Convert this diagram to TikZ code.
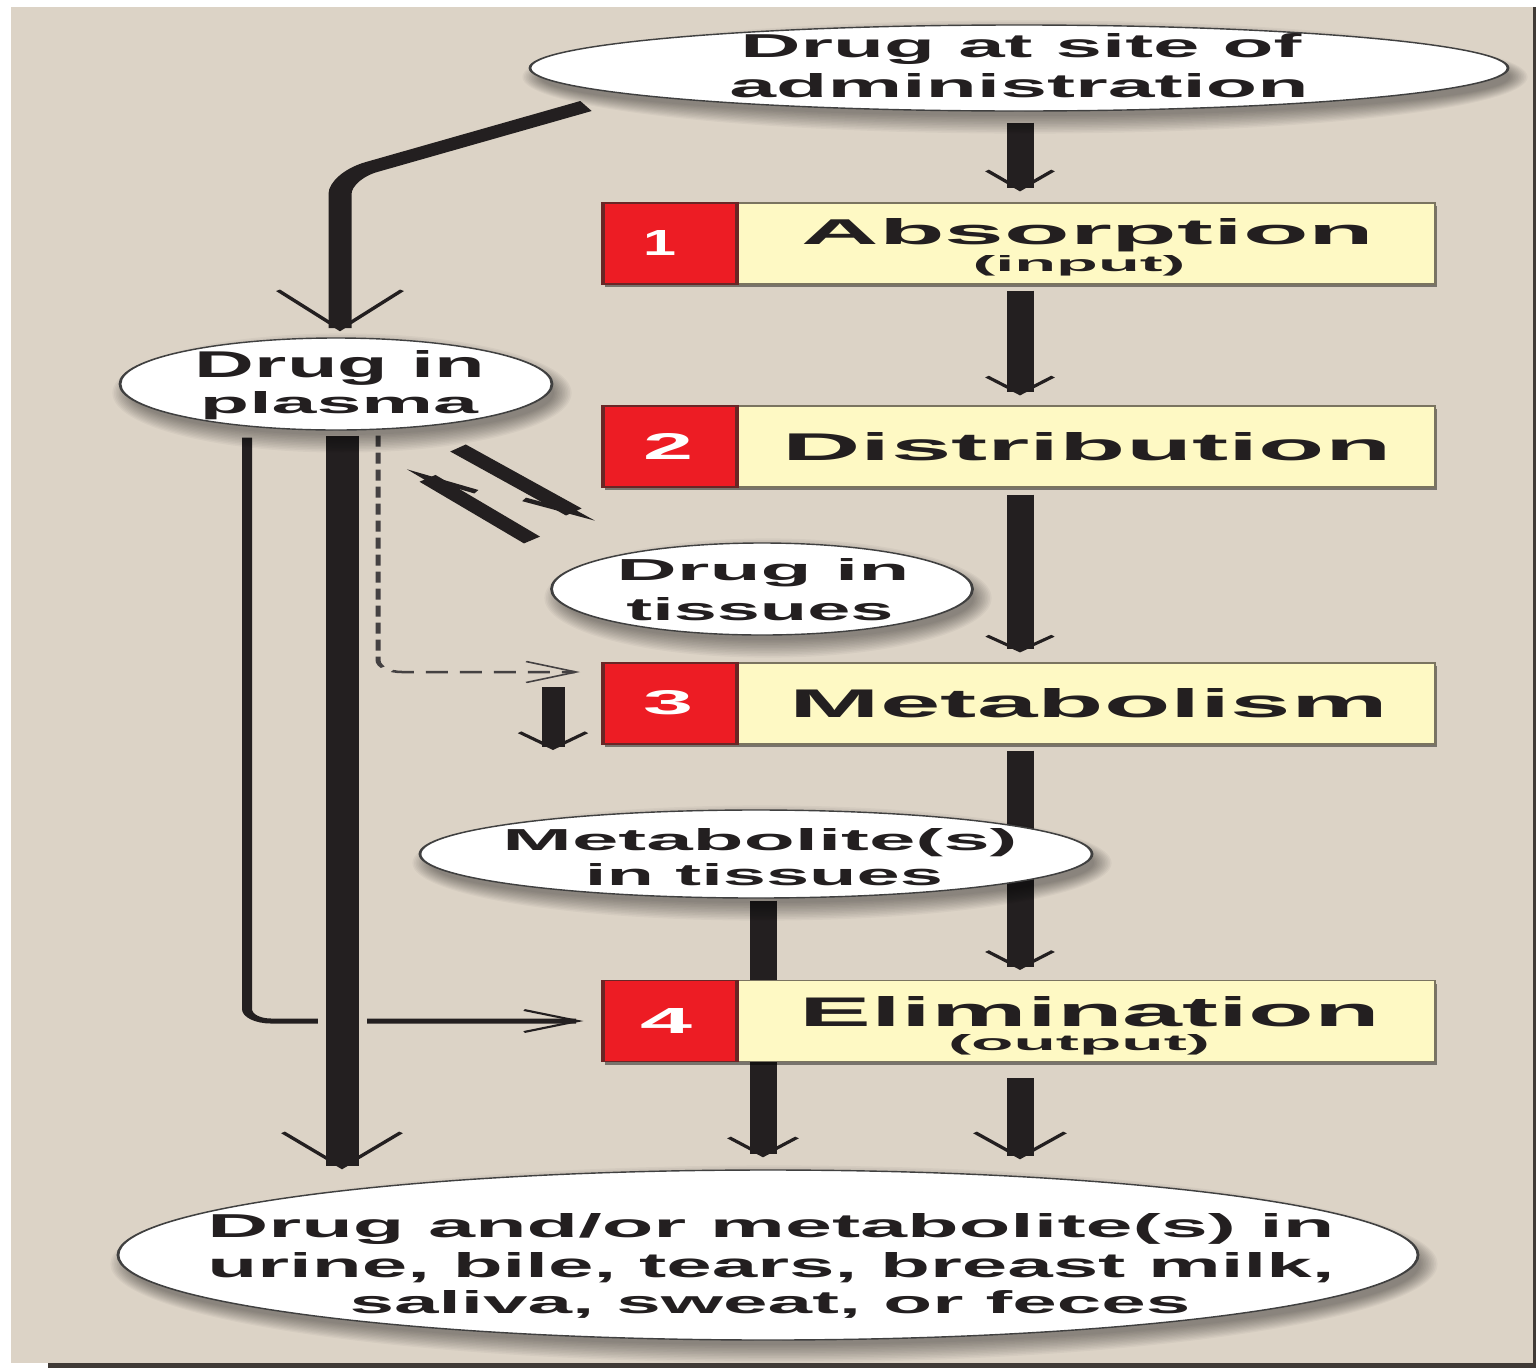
\documentclass[tikz,border=0pt]{standalone}
\usepackage{fontspec}
\setmainfont{Liberation Sans}
\usetikzlibrary{arrows.meta,shapes.geometric,calc,shadows}
\definecolor{bgc}{RGB}{220,211,198}
\definecolor{edgec}{RGB}{64,58,54}
\definecolor{ink}{RGB}{35,31,32}
\definecolor{redc}{RGB}{237,28,36}
\definecolor{redb}{RGB}{105,38,38}
\definecolor{yelc}{RGB}{254,249,196}
\definecolor{yelb}{RGB}{122,116,96}
\pgfdeclarelayer{back}\pgfdeclarelayer{arrows}\pgfdeclarelayer{shad}
\pgfsetlayers{back,arrows,shad,main}
\newcommand\fitt[3]{\resizebox{\dimexpr #1pt/2\relax}{#2pt}{\bfseries #3}}
\newcommand\eshadow[3]{%
  \foreach \k in {0,...,11}{%
    \pgfmathsetmacro\rxx{(#2+1.6*\k-4)/2}%
    \pgfmathsetmacro\ryy{#3+1.6*\k-4}%
    \fill[black,opacity=0.035] ($(#1.center)+(6,9)$) ellipse [x radius=\rxx pt, y radius=\ryy pt];}}
\tikzset{
  canvas/.style={transform canvas={xscale=2}, x=0.5pt, y=-1pt},
  ell/.style={ellipse, draw=black!75, line width=1.4pt, fill=white, inner sep=0pt},
  boxshadow/.style={drop shadow={shadow xshift=1pt, shadow yshift=-3pt, opacity=0.45, fill=black}},
  redbox/.style={rectangle, fill=redc, draw=redb, line width=1.6pt, minimum width=67pt, minimum height=81pt, inner sep=0pt, boxshadow},
  yelbox/.style={rectangle, fill=yelc, draw=yelb, line width=1.2pt, minimum width=349pt, minimum height=81pt, inner sep=0pt, boxshadow},
  lbl/.style={inner sep=0pt, anchor=base, text=ink},
  num/.style={inner sep=0pt, anchor=base, text=white},
  shaft/.style={draw=ink, line width=#1},
  tipb/.style 2 args={-{Straight Barb[width=#1, length=#2, line width=2.5pt]}},
  harpoon/.style={draw=ink, line width=10.5pt, -{Straight Barb[right, width=20pt, length=28pt, line width=4pt]}},
}
\begin{document}
\begin{tikzpicture}[x=1pt,y=-1pt]
\useasboundingbox (0,0) rectangle (1536,1368);
\begin{pgfonlayer}{back}
  \fill[white] (0,0) rectangle (1536,1368);
  \fill[bgc] (11,7) rectangle (1533,1363);
  \fill[edgec] (1533,7) rectangle (1536,1368);
  \fill[edgec] (48,1363) rectangle (1536,1368);
\end{pgfonlayer}

\begin{scope}[canvas]
  % ellipses
  \node[ell, minimum width=489pt, minimum height=86pt] (top) at (1019,68) {};
  \node[ell, minimum width=216pt, minimum height=92pt] (plasma) at (336,384) {};
  \node[ell, minimum width=210.5pt, minimum height=92pt] (tissue) at (762,589) {};
  \node[ell, minimum width=336pt, minimum height=88pt] (metab) at (756,854) {};
  \node[ell, minimum width=650pt, minimum height=170pt] (bottom) at (768,1255) {};
  % boxes
  \node[yelbox] (y1) at (1086,243.5) {};
  \node[redbox] (r1) at (670,243.5) {};
  \node[yelbox] (y2) at (1086,446.5) {};
  \node[redbox] (r2) at (670,446.5) {};
  \node[yelbox] (y3) at (1086,703.5) {};
  \node[redbox] (r3) at (670,703.5) {};
  \node[yelbox] (y4) at (1086,1021) {};
  \node[redbox] (r4) at (670,1021) {};
  % texts
  \node[lbl] (t1a) at (1021,57) {\fitt{561}{24}{Drug at site of}};
  \node[lbl] (t1b) at (1019,97) {\fitt{579}{24}{administration}};
  \node[lbl] (abs) at (1088,244) {\fitt{573}{26}{Absorption}};
  \node[lbl] (inp) at (1079,271) {\fitt{213}{16}{(input)}};
  \node[lbl] (dis) at (1087,460) {\fitt{609}{28}{Distribution}};
  \node[lbl] (met) at (1089,717) {\fitt{598}{29}{Metabolism}};
  \node[lbl] (eli) at (1090,1026) {\fitt{580}{30}{Elimination}};
  \node[lbl] (outp) at (1079,1050) {\fitt{262}{16}{(output)}};
  \node[num] (n1) at (660,255) {\fitt{33}{25}{1}};
  \node[num] (n2) at (668,459) {\fitt{50}{26}{2}};
  \node[num] (n3) at (668,714) {\fitt{50}{24}{3}};
  \node[num] (n4) at (666,1033) {\fitt{52}{25}{4}};
  \node[lbl] (p1) at (340,377) {\fitt{290}{27}{Drug in}};
  \node[lbl] (p2) at (339,413) {\fitt{278}{22}{plasma}};
  \node[lbl] (ti1) at (763,580) {\fitt{293}{22}{Drug in}};
  \node[lbl] (ti2) at (760,620) {\fitt{267}{23}{tissues}};
  \node[lbl] (m1) at (760,850) {\fitt{515}{22}{Metabolite(s)}};
  \node[lbl] (m2) at (764,885) {\fitt{358}{22}{in tissues}};
  \node[lbl] (b1) at (771,1237) {\fitt{1127}{24}{Drug and/or metabolite(s) in}};
  \node[lbl] (b2) at (771,1277) {\fitt{1127}{25}{urine, bile, tears, breast milk,}};
  \node[lbl] (b3) at (770,1313) {\fitt{841}{23}{saliva, sweat, or feces}};
\end{scope}

\begin{pgfonlayer}{shad}
\begin{scope}[canvas]
  \eshadow{top}{489}{43}
  \eshadow{plasma}{216}{46}
  \eshadow{tissue}{210}{46}
  \eshadow{metab}{336}{44}
  \eshadow{bottom}{650}{85}
\end{scope}
\end{pgfonlayer}

\begin{pgfonlayer}{arrows}
\begin{scope}[canvas]
  \coordinate (R) at (1020,0);
  \coordinate (M) at (763,0);
  \coordinate (P) at (342,0);
  \coordinate (L) at (247,0);
  \coordinate (D) at (378,0);
  \coordinate (dashEnd) at (580,672);
  \coordinate (a8s) at (586,106);
  \coordinate (a8b) at (340,176);
  \coordinate (a8x) at (340,0);
  \coordinate (sA) at (553,687);
  \coordinate (sB) at (553,750);
  \coordinate (hA1) at (458,448);
  \coordinate (hA2) at (592,522);
  \coordinate (hB1) at (532,540);
  \coordinate (hB2) at (410,468);
  % right column
  \draw[shaft=13.5pt, tipb={33pt}{19pt}, shorten <=11pt, shorten >=11pt] (R |- top.south) -- (R |- y1.north);
  \draw[shaft=13.5pt, tipb={33pt}{17pt}, shorten <=6pt, shorten >=10pt] (R |- y1.south) -- (R |- y2.north);
  \draw[shaft=13.5pt, tipb={33pt}{15pt}, shorten <=7pt, shorten >=10pt] (R |- y2.south) -- (R |- y3.north);
  \draw[shaft=13.5pt, tipb={33pt}{17pt}, shorten <=6pt, shorten >=10pt] (R |- y3.south) -- (R |- y4.north);
  \draw[shaft=13.5pt, tipb={45pt}{25pt}, shorten <=16pt, shorten >=10pt] (R |- y4.south) -- (R |- bottom.north);
  % metabolite to excretion
  \draw[shaft=13.5pt, tipb={34pt}{18pt}, shorten <=2pt, shorten >=12pt] (M |- metab.south) -- (M |- bottom.north);
  % site of administration to plasma
  \draw[shaft=11.5pt, tipb={62pt}{39pt}, rounded corners=18pt, shorten >=6pt] (a8s) -- (a8b) -- (a8x |- plasma.north);
  % plasma to elimination (thin)
  \draw[ink, line width=5pt, -{Straight Barb[width=22pt,length=27pt,line width=2pt]}, rounded corners=12pt, shorten <=7pt, shorten >=9pt] (L |- plasma.south) -- (L |- r4.west) -- (r4.west);
  % dotted plasma to metabolism
  \draw[ink!85, line width=2.5pt, dash pattern=on 11pt off 6pt, -{Straight Barb[width=21pt,length=25pt,line width=1.5pt]}, rounded corners=12pt, shorten <=5pt] (D |- plasma.south) -- (D |- dashEnd) -- (dashEnd);
  \draw[shaft=11.5pt, tipb={33.5pt}{16pt}] (sA) -- (sB);
  % gap in thin line
  \draw[bgc, line width=24.5pt] (P |- 0,1012) -- (P |- 0,1030);
  % plasma to excretion
  \draw[shaft=16.5pt, tipb={59pt}{35pt}, shorten <=5pt] (P |- plasma.south) -- (P |- bottom.north);
  % harpoons
  \draw[harpoon] (hA1) -- (hA2);
  \draw[harpoon] (hB1) -- (hB2);
\end{scope}
\end{pgfonlayer}
\end{tikzpicture}
\end{document}
